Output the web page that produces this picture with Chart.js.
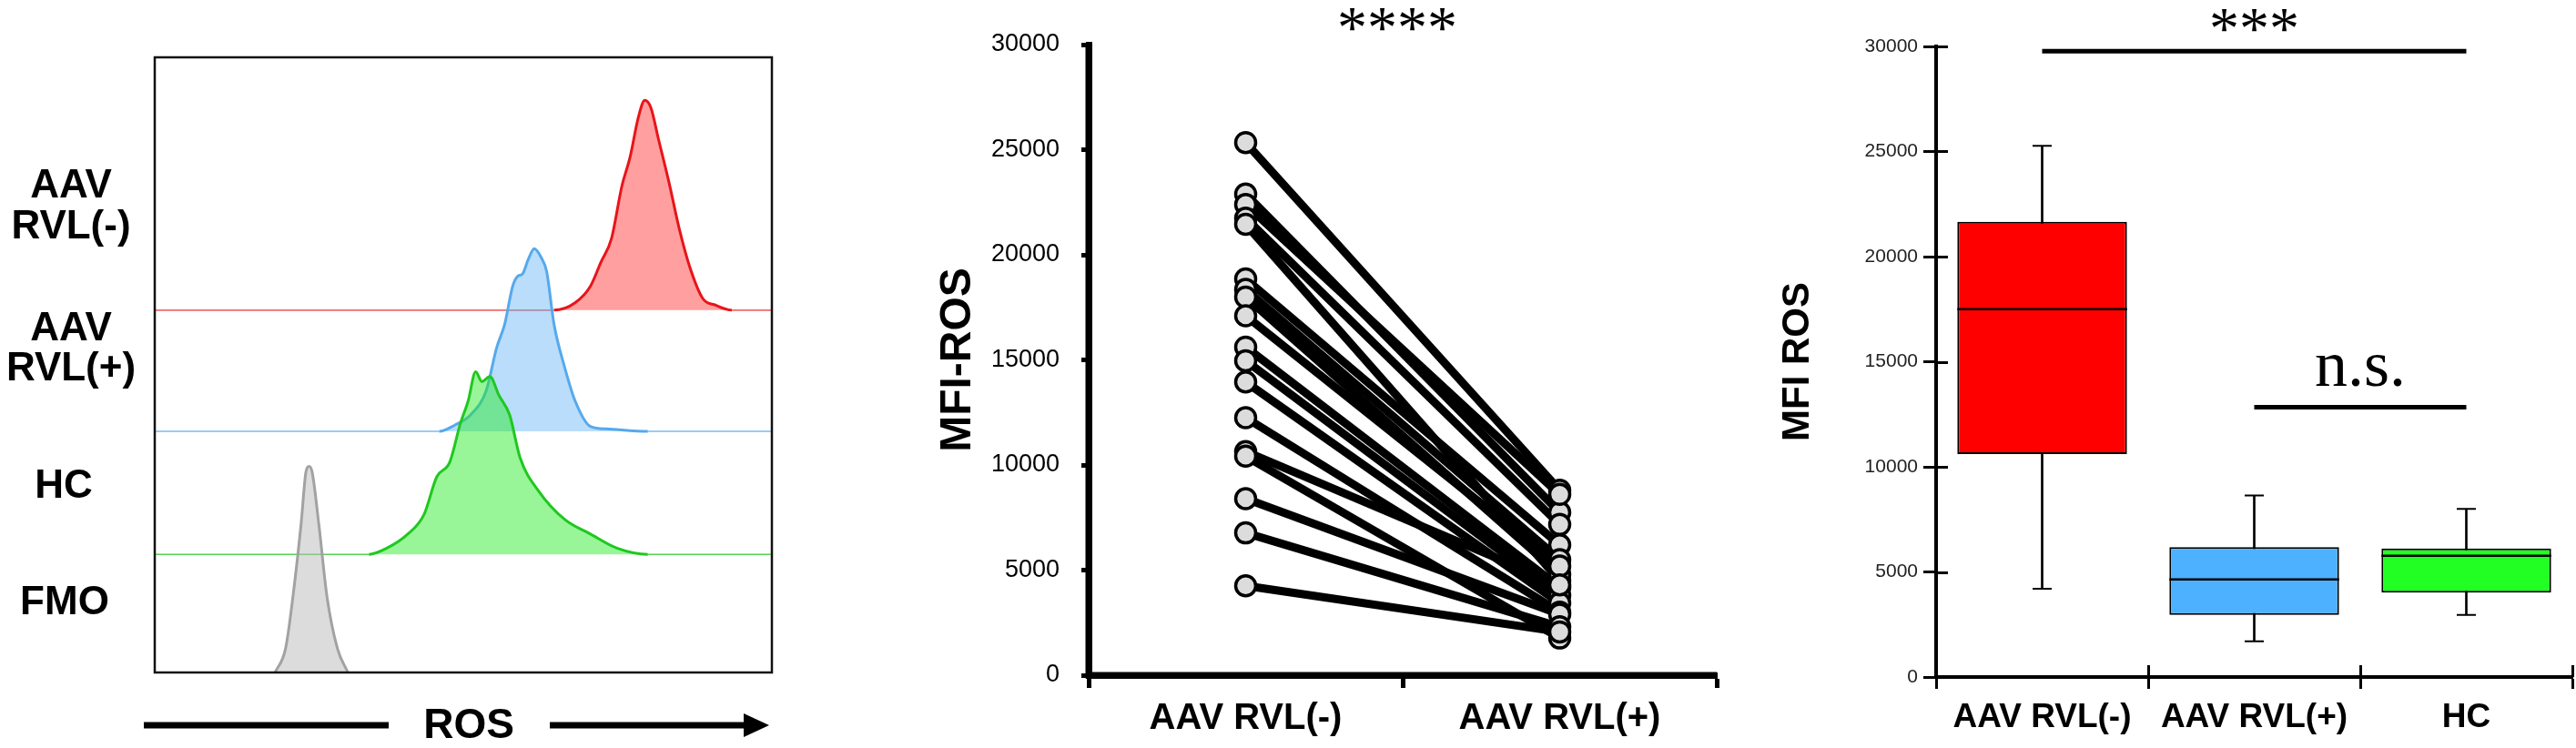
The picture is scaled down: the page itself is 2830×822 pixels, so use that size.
<!DOCTYPE html>
<html><head><meta charset="utf-8">
<script src="https://cdn.jsdelivr.net/npm/chart.js@4.4.1/dist/chart.umd.min.js"></script>
<style>
html,body{margin:0;padding:0;background:#fff;}
#wrap{position:relative;width:2830px;height:822px;overflow:hidden;background:#fff;}
.panel{position:absolute;top:0;height:822px;}
</style></head><body>
<div id="wrap">
  <div class="panel" style="left:0;width:900px"><canvas id="c1"></canvas></div>
  <div class="panel" style="left:1000px;width:910px"><canvas id="c2"></canvas></div>
  <div class="panel" style="left:1930px;width:900px"><canvas id="c3"></canvas></div>
</div>
<script>
// ---------------- DATA ----------------
// Panel A: ROS histograms (fluorescence channel, relative cell count)
const histGroups = ['AAV RVL(-)', 'AAV RVL(+)', 'HC', 'FMO'];
const histLabelLines = [['AAV', 'RVL(-)'], ['AAV', 'RVL(+)'], ['HC'], ['FMO']];
const rvlNegRos   = [0, 647, 681, 706, 723, 740, 757, 770, 784, 794, 804, 816, 833, 850, 867, 888, 909, 935, 1000];
const rvlNegCount = [0, 0, 1.2, 3.9, 7.8, 11.6, 20.2, 24.8, 31.5, 34.1, 32.9, 27.9, 20.9, 13.2, 7.0, 1.9, 0.8, 0, 0];
const rvlPosRos   = [0, 461, 486, 512, 537, 554, 567, 580, 588, 596, 605, 615, 626, 635, 647, 664, 681, 706, 732, 799, 1000];
const rvlPosCount = [0, 0, 1.0, 2.7, 6.6, 13.6, 17.4, 23.6, 25.2, 25.6, 27.9, 29.7, 28.3, 26.0, 17.4, 10.5, 5.0, 0.8, 0.4, 0, 0];
const hcRos       = [0, 347, 376, 410, 436, 457, 478, 495, 508, 520, 530, 543, 558, 575, 592, 622, 664, 706, 749, 799, 1000];
const hcCount     = [0, 0, 1.0, 3.3, 6.4, 12.6, 15.0, 21.2, 25.0, 29.7, 28.1, 28.9, 25.8, 22.7, 15.7, 10.3, 5.7, 3.3, 1.0, 0, 0];
const fmoRos      = [195, 212, 224, 237, 245, 250, 255, 266, 279, 296, 313];
const fmoCount    = [0, 3.9, 12.4, 24.0, 32.6, 33.5, 32.6, 24.0, 12.4, 3.9, 0];

// Panel B: paired MFI-ROS
const pairGroups = ['AAV RVL(-)', 'AAV RVL(+)'];
const mfiRvlNeg = [25340, 22890, 22390, 21740, 21450, 18850, 18350, 17990, 17100, 15610, 14960, 13950, 12250, 10640, 10420, 8400, 6770, 4250];
const mfiRvlPos = [8800, 7750, 8600, 7170, 4500, 6200, 5500, 4800, 5190, 4180, 3800, 3430, 3000, 4300, 1770, 2900, 2300, 2060];
const pairSig = '****';

// Panel C: box plot MFI ROS
const boxGroups = ['AAV RVL(-)', 'AAV RVL(+)', 'HC'];
const boxMin    = [4200, 1700, 2950];
const boxQ1     = [10610, 2950, 4020];
const boxMedian = [17500, 4640, 5770];
const boxQ3     = [21660, 6180, 6110];
const boxMax    = [25270, 8640, 8000];
const sigFrom   = [0, 1];
const sigTo     = [2, 2];
const sigLevel  = [29770, 12840];
const sigText   = ['***', 'n.s.'];

const yTickMax = 30000, yTickStep = 5000;

// ---------------- STYLE ----------------
const FONT = "'Liberation Sans', Arial, Helvetica, sans-serif";
const SERIF = "'Liberation Serif', 'Times New Roman', serif";
Chart.defaults.font.family = FONT;
Chart.defaults.color = '#000';
Chart.defaults.animation = false;
Chart.defaults.plugins.legend.display = false;
Chart.defaults.plugins.tooltip.enabled = false;

// draws the axis lines (left + bottom) with a given width on top of everything
function axisLines(width) {
  return {
    id: 'axisLines' + width,
    afterDraw(chart) {
      const {ctx, chartArea: a} = chart;
      ctx.save();
      ctx.strokeStyle = '#000';
      ctx.lineWidth = width;
      ctx.lineCap = 'butt';
      ctx.beginPath();
      ctx.moveTo(a.left, a.top - 1);
      ctx.lineTo(a.left, a.bottom);
      ctx.lineTo(a.right, a.bottom);
      ctx.stroke();
      ctx.restore();
    }
  };
}

// ---------------- PANEL A ----------------
const histBase = [58.9, 39.2, 19.2, 0];
const histStyle = [
  {line:'#e8141a', base:'rgba(235,70,70,0.8)', fill:'rgba(255,70,70,0.52)'},
  {line:'#56a9ec', base:'rgba(90,170,235,0.8)', fill:'rgba(100,180,245,0.45)'},
  {line:'#1fc81f', base:'rgba(40,200,40,0.8)', fill:'rgba(40,235,40,0.48)'},
  {line:'#a2a2a2', base:'#a2a2a2', fill:'rgba(185,185,185,0.5)'}
];
const histX = [rvlNegRos, rvlPosRos, hcRos, fmoRos];
const histY = [rvlNegCount, rvlPosCount, hcCount, fmoCount];
const histLabelY = [75.7, 52.5, 30.2, 11.2];
const histLabelX = [78, 78, 70, 71];
const histOrder = [4, 3, 2, 1];

const histDatasets = histGroups.map((g, i) => {
  const off = histBase[i];
  const st = histStyle[i];
  const isBase = c => Math.abs(c.p0.parsed.y - off) < 1e-6 && Math.abs(c.p1.parsed.y - off) < 1e-6;
  return {
    label: g,
    data: histX[i].map((x, k) => ({x: x, y: histY[i][k] + off})),
    borderColor: st.line,
    backgroundColor: st.fill,
    borderWidth: 3,
    fill: {value: off},
    pointRadius: 0,
    cubicInterpolationMode: 'monotone',
    order: histOrder[i],
    segment: {
      borderWidth: c => isBase(c) ? 1.6 : 3,
      borderColor: c => isBase(c) ? st.base : st.line
    }
  };
});

const histDeco = {
  id: 'histDeco',
  afterDatasetsDraw(chart) {
    const {ctx, chartArea: a, scales: {y}} = chart;
    ctx.save();
    ctx.strokeStyle = '#111';
    ctx.lineWidth = 2.5;
    ctx.strokeRect(a.left, a.top, a.right - a.left, a.bottom - a.top);
    ctx.fillStyle = '#000';
    ctx.font = 'bold 44px ' + FONT;
    ctx.textAlign = 'center';
    ctx.textBaseline = 'middle';
    histLabelLines.forEach((lines, i) => {
      const cy = y.getPixelForValue(histLabelY[i]);
      const lh = 44.5;
      lines.forEach((t, k) => {
        ctx.fillText(t, histLabelX[i], cy + (k - (lines.length - 1) / 2) * lh);
      });
    });
    // axis arrow + label
    const ay = a.bottom + 58;
    ctx.lineWidth = 7;
    ctx.strokeStyle = '#000';
    ctx.beginPath();
    ctx.moveTo(a.left - 12, ay); ctx.lineTo(a.left + 257, ay);
    ctx.moveTo(a.left + 434, ay); ctx.lineTo(a.right - 30, ay);
    ctx.stroke();
    ctx.beginPath();
    ctx.moveTo(a.right - 31, ay - 13); ctx.lineTo(a.right - 3, ay); ctx.lineTo(a.right - 31, ay + 13);
    ctx.closePath(); ctx.fill();
    ctx.font = 'bold 46px ' + FONT;
    ctx.fillText('ROS', a.left + 345, ay + 1);
    ctx.restore();
  }
};

new Chart(document.getElementById('c1'), {
  type: 'line',
  data: {datasets: histDatasets},
  options: {
    responsive: true, maintainAspectRatio: false, devicePixelRatio: 1,
    layout: {autoPadding: false, padding: {left: 170, right: 52, top: 63, bottom: 83}},
    scales: {
      x: {type: 'linear', min: 0, max: 1000, display: false},
      y: {type: 'linear', min: 0, max: 100, display: false}
    }
  },
  plugins: [histDeco]
});

// ---------------- PANEL B ----------------
const pairDatasets = mfiRvlNeg.map((v, i) => ({
  type: 'line',
  data: [v, mfiRvlPos[i]],
  borderColor: '#000', borderWidth: 9, pointRadius: 0, order: 2
}));
[mfiRvlNeg, mfiRvlPos].forEach((arr, gi) => {
  pairDatasets.push({
    type: 'line', showLine: false,
    data: arr.map(v => ({x: pairGroups[gi], y: v})),
    pointRadius: 11, pointBorderWidth: 3.5,
    pointBackgroundColor: '#dcdcdc', pointBorderColor: '#000', order: 1
  });
});

const pairDeco = {
  id: 'pairDeco',
  afterDraw(chart) {
    const {ctx, chartArea: a, scales: {x}} = chart;
    ctx.save();
    ctx.fillStyle = '#000';
    ctx.font = '66px ' + SERIF;
    ctx.textAlign = 'center';
    ctx.textBaseline = 'alphabetic';
    const cx = (x.getPixelForValue(0) + x.getPixelForValue(1)) / 2 - 6;
    ctx.fillText(pairSig, cx, a.top + 3);
    ctx.restore();
  }
};

new Chart(document.getElementById('c2'), {
  type: 'line',
  data: {labels: pairGroups, datasets: pairDatasets},
  options: {
    responsive: true, maintainAspectRatio: false, devicePixelRatio: 1,
    layout: {autoPadding: false, padding: {left: 0, right: 24, top: 49, bottom: 0}},
    scales: {
      x: {
        type: 'category', offset: true,
        grid: {offset: true, drawOnChartArea: false, tickLength: 14, tickWidth: 5, color: '#000'},
        border: {color: '#000', width: 7},
        ticks: {font: {size: 40, weight: 'bold'}, color: '#000', padding: 10, autoSkip: false, maxRotation: 0, minRotation: 0},
        afterFit: s => { s.height = 80; }
      },
      y: {
        min: 0, max: yTickMax,
        grid: {drawOnChartArea: false, tickLength: 8, tickWidth: 5, color: '#000'},
        border: {color: '#000', width: 7},
        ticks: {stepSize: yTickStep, font: {size: 27}, color: '#000', padding: 24, callback: v => String(v)},
        title: {display: true, text: 'MFI-ROS', font: {size: 48, weight: 'bold'}, color: '#000', padding: {top: 24, bottom: 0}},
        afterFit: s => { s.width = 196; }
      }
    }
  },
  plugins: [pairDeco, axisLines(7)]
});

// ---------------- PANEL C ----------------
const boxColors = ['#ff0000', '#4db1ff', '#22ff22'];
const medianHalfWidth = c => {
  const bar = c.chart.getDatasetMeta(1).data[c.dataIndex];
  return bar && bar.width ? bar.width / 2 : 90;
};
const boxDatasets = [
  {type: 'bar', data: boxMin.map((v, i) => [v, boxMax[i]]), backgroundColor: '#000',
   barThickness: 2, grouped: false, order: 5},
  {type: 'bar', data: boxQ1.map((v, i) => [v, boxQ3[i]]), backgroundColor: boxColors,
   borderColor: '#000', borderWidth: 2, borderSkipped: false,
   barPercentage: 0.8, categoryPercentage: 1, grouped: false, order: 4},
  {type: 'line', showLine: false, data: boxMedian, pointStyle: 'line', pointRadius: medianHalfWidth,
   pointBorderWidth: 2.5, pointBorderColor: '#000', order: 1},
  {type: 'line', showLine: false, data: boxMin, pointStyle: 'line', pointRadius: 10.5,
   pointBorderWidth: 2, pointBorderColor: '#000', order: 1},
  {type: 'line', showLine: false, data: boxMax, pointStyle: 'line', pointRadius: 10.5,
   pointBorderWidth: 2, pointBorderColor: '#000', order: 1}
];

const boxDeco = {
  id: 'boxDeco',
  afterDraw(chart) {
    const {ctx, chartArea: a, scales: {x, y}} = chart;
    ctx.save();
    // inward halves of the crossing tick marks
    ctx.strokeStyle = '#000';
    ctx.lineWidth = 3;
    ctx.beginPath();
    y.ticks.forEach(t => {
      if (t.value === 0) return;
      const py = Math.round(y.getPixelForValue(t.value)) + 0.5;
      ctx.moveTo(a.left, py); ctx.lineTo(a.left + 13, py);
    });
    for (let i = 1; i <= boxGroups.length; i++) {
      const px = Math.round(x.getPixelForValue(i - 0.5)) + 0.5;
      ctx.moveTo(px, a.bottom); ctx.lineTo(px, a.bottom - 13);
    }
    ctx.stroke();
    // significance bars
    ctx.fillStyle = '#000';
    ctx.lineWidth = 5;
    ctx.textAlign = 'center';
    ctx.textBaseline = 'alphabetic';
    sigText.forEach((txt, i) => {
      const x0 = x.getPixelForValue(sigFrom[i]);
      const x1 = x.getPixelForValue(sigTo[i]);
      const py = y.getPixelForValue(sigLevel[i]);
      ctx.beginPath(); ctx.moveTo(x0, py); ctx.lineTo(x1, py); ctx.stroke();
      if (txt === 'n.s.') {
        ctx.font = '72px ' + SERIF;
        ctx.fillText(txt, (x0 + x1) / 2, py - 23);
      } else {
        ctx.font = '66px ' + SERIF;
        ctx.fillText(txt, (x0 + x1) / 2, py - 3);
      }
    });
    ctx.restore();
  }
};

new Chart(document.getElementById('c3'), {
  type: 'bar',
  data: {labels: boxGroups, datasets: boxDatasets},
  options: {
    responsive: true, maintainAspectRatio: false, devicePixelRatio: 1,
    layout: {autoPadding: false, padding: {left: 0, right: 4, top: 51, bottom: 0}},
    scales: {
      x: {
        type: 'category', offset: true,
        grid: {offset: true, drawOnChartArea: false, tickLength: 13, tickWidth: 3, color: '#000'},
        border: {color: '#000', width: 4},
        ticks: {font: {size: 37, weight: 'bold'}, color: '#000', padding: 10, autoSkip: false, maxRotation: 0, minRotation: 0},
        afterFit: s => { s.height = 78; }
      },
      y: {
        min: 0, max: yTickMax,
        grid: {drawOnChartArea: false, tickLength: 14, tickWidth: 3, color: '#000'},
        border: {color: '#000', width: 4},
        ticks: {stepSize: yTickStep, font: {size: 21}, color: '#222', padding: 6, callback: v => String(v)},
        title: {display: true, text: 'MFI ROS', font: {size: 42, weight: 'bold'}, color: '#000', padding: {top: 20, bottom: 0}},
        afterFit: s => { s.width = 197; }
      }
    }
  },
  plugins: [boxDeco, axisLines(4)]
});
</script>
</body></html>
